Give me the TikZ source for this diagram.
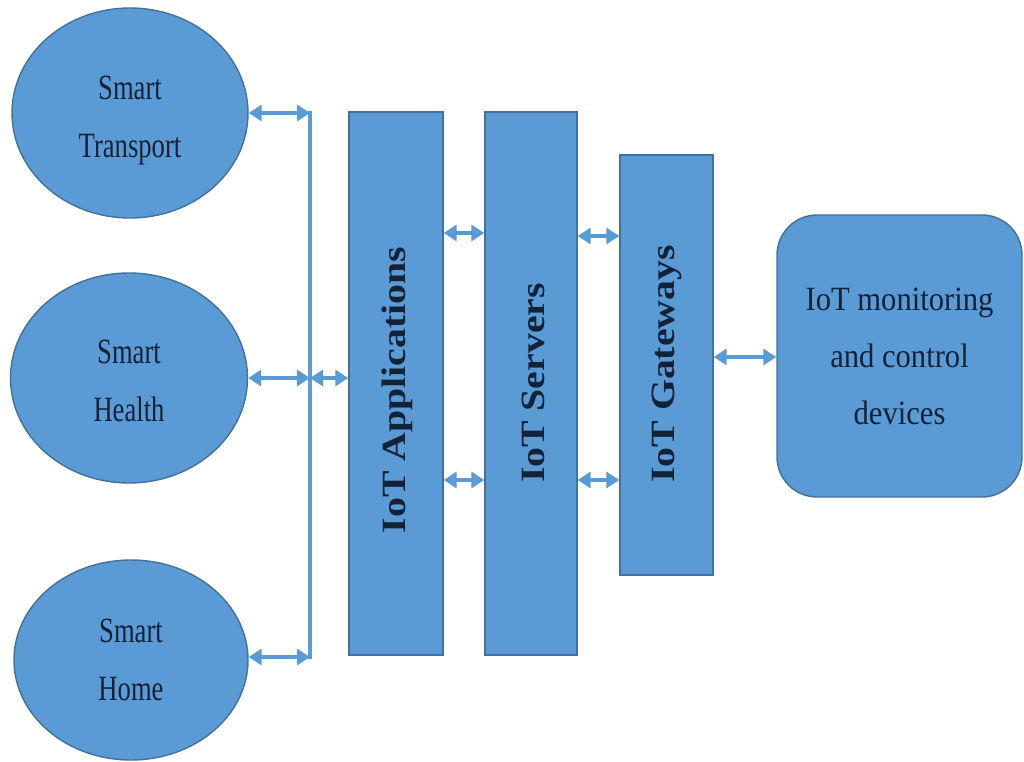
\documentclass[tikz,border=0pt]{standalone}
\usepackage{fontspec}
\setmainfont{Liberation Serif}
\newfontfamily\ellfont[FakeStretch=0.75]{Liberation Serif}
\newfontfamily\monfont[FakeStretch=0.9]{Liberation Serif}
\newfontfamily\barfont[FakeStretch=1.17]{Liberation Serif}
\usetikzlibrary{shapes.geometric,arrows.meta}
\definecolor{boxblue}{HTML}{5B9BD5}
\definecolor{edgeblue}{HTML}{41719C}
\definecolor{txtnavy}{HTML}{142238}
\tikzset{
  ellbox/.style={ellipse, fill=boxblue, draw=edgeblue, line width=1.4pt, inner sep=0pt},
  elltext/.style={text=txtnavy, align=center, inner sep=0pt, font=\ellfont\fontsize{35.5}{58}\selectfont},
  barbox/.style={rectangle, fill=boxblue, draw=edgeblue, line width=1.4pt, inner sep=0pt},
  bartext/.style={rotate=90, text=txtnavy, inner sep=0pt, font=\barfont\bfseries\fontsize{34}{40}\selectfont},
  monbox/.style={rectangle, rounded corners=40pt, fill=boxblue, draw=edgeblue, line width=1.4pt,
     text=txtnavy, align=center, font=\monfont\fontsize{34}{57}\selectfont},
  link/.style={draw=boxblue, line width=4pt},
  biarrow/.style={link, {Triangle[width=16pt,length=13pt]}-{Triangle[width=16pt,length=13pt]}},
}
\begin{document}
\begin{tikzpicture}[x=1pt,y=1pt]
\useasboundingbox (0,0) rectangle (1024,761);
% left ellipses
\node[ellbox, minimum width=236pt, minimum height=210pt] (e1) at (130,648) {};
\node[ellbox, minimum width=237pt, minimum height=210pt] (e2) at (129,383) {};
\node[ellbox, minimum width=234pt, minimum height=200pt] (e3) at (131,101) {};
\node[elltext] (e1T) at ([yshift=-8pt]e1.center) {Smart\\Transport};
\node[elltext] (e2T) at ([yshift=-3pt]e2.center) {Smart\\Health};
\node[elltext] (e3T) at (e3.center) {Smart\\Home};
% bars
\node[barbox, minimum width=94pt, minimum height=543pt] (apps) at (396,377.5) {};
\node[barbox, minimum width=92pt, minimum height=543pt] (srv) at (531,377.5) {};
\node[barbox, minimum width=93pt, minimum height=420pt] (gw) at (666.5,396) {};
\node[bartext] (appsT) at (397,371) {IoT Applications};
\node[bartext] (srvT) at (533,378) {IoT Servers};
\node[bartext] (gwT) at (667,397) {IoT Gateways};
% monitoring
\node[monbox, minimum width=245pt, minimum height=282pt] (mon) at (899.5,405) {IoT monitoring\\and control\\devices};
% bus
\coordinate (busT) at (310,648);
\coordinate (busM) at (310,383);
\coordinate (busB) at (310,104);
\draw[link] ([yshift=2pt]busT) -- ([yshift=-2pt]busB);
\draw[biarrow] (e1.east) -- (busT);
\draw[biarrow] (e2.east) -- (busM);
\draw[biarrow] (e3.east |- busB) -- (busB);
\draw[biarrow] (busM) -- (apps.west |- busM);
% between bars
\draw[biarrow] (apps.east |- 0,528) -- (srv.west |- 0,528);
\draw[biarrow] (apps.east |- 0,281) -- (srv.west |- 0,281);
\draw[biarrow] (srv.east |- 0,525) -- (gw.west |- 0,525);
\draw[biarrow] (srv.east |- 0,281) -- (gw.west |- 0,281);
\draw[biarrow] (gw.east |- 0,404) -- (mon.west |- 0,404);
\end{tikzpicture}
\end{document}
